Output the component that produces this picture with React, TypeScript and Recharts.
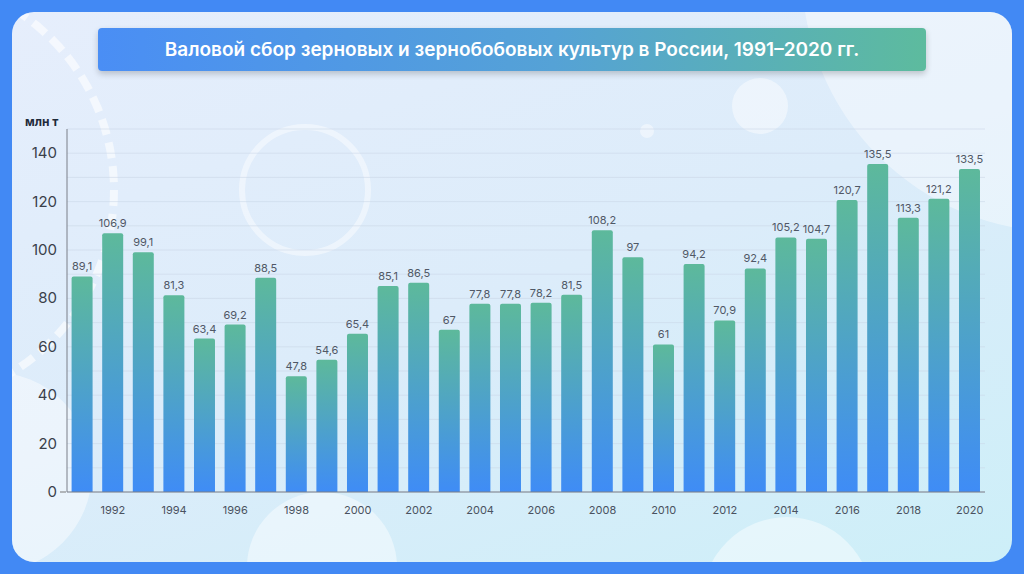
import { BarChart, Bar, XAxis, YAxis, CartesianGrid, LabelList } from 'recharts';

const YEARS = [
  1991, 1992, 1993, 1994, 1995, 1996, 1997, 1998, 1999, 2000,
  2001, 2002, 2003, 2004, 2005, 2006, 2007, 2008, 2009, 2010,
  2011, 2012, 2013, 2014, 2015, 2016, 2017, 2018, 2019, 2020,
];
const HARVEST = [
  89.1, 106.9, 99.1, 81.3, 63.4, 69.2, 88.5, 47.8, 54.6, 65.4,
  85.1, 86.5, 67, 77.8, 77.8, 78.2, 81.5, 108.2, 97, 61,
  94.2, 70.9, 92.4, 105.2, 104.7, 120.7, 135.5, 113.3, 121.2, 133.5,
];
const Y_TICKS = [0, 10, 20, 30, 40, 50, 60, 70, 80, 90, 100, 110, 120, 130, 140];

const data = YEARS.map((year, i) => ({ year, value: HARVEST[i] }));

const FONT = 'Inter, "Noto Sans", sans-serif';

const fmt = (v: any) => String(v).replace('.', ',');

function YTick({ x, y, payload }: any) {
  if (payload.value % 20 !== 0) return null;
  return (
    <g>
      {payload.value === 0 && <line x1={x + 1} x2={x + 7} y1={y} y2={y} stroke="#777" />}
      <text x={x - 2} y={y} dy={5} textAnchor="end" fontSize={15} fill="#3a3f4a" fontFamily={FONT}>
        {payload.value}
      </text>
    </g>
  );
}

function XTick({ x, y, payload }: any) {
  if (payload.value % 2 !== 0) return null;
  return (
    <text x={x} y={y} dy={14} textAnchor="middle" fontSize={11} fill="#4a5260" fontFamily={FONT}>
      {payload.value}
    </text>
  );
}

const circle = (left: number, top: number, size: number, extra: any = {}) => (
  <div
    style={{
      position: 'absolute',
      left,
      top,
      width: size,
      height: size,
      borderRadius: '50%',
      background: 'rgba(255,255,255,0.45)',
      ...extra,
    }}
  />
);

export default function App() {
  return (
    <div style={{ position: 'fixed', left: 0, top: 0, width: 1024, height: 574, background: '#4289f4', overflow: 'hidden', fontFamily: FONT }}>
      <div
        style={{
          position: 'absolute',
          left: 12,
          top: 12,
          width: 1000,
          height: 550,
          borderRadius: 22,
          overflow: 'hidden',
          background: 'linear-gradient(160deg, #e6eefc 0%, #dcecfa 50%, #cdeff8 100%)',
        }}
      >
        {circle(790, -300, 520, { background: 'rgba(255,255,255,0.4)' })}
        {circle(720, 66, 56)}
        {circle(628, 112, 14)}
        {circle(227, 112, 120, { background: 'transparent', border: '6px solid rgba(255,255,255,0.45)' })}
        {circle(-120, 360, 200)}
        {circle(235, 480, 150)}
        {circle(690, 505, 170)}
        {circle(-330, -40, 420, { background: 'transparent', border: '8px dashed rgba(255,255,255,0.6)' })}
      </div>
      <div
        style={{
          position: 'absolute',
          left: 98,
          top: 28,
          width: 828,
          height: 43,
          borderRadius: 4,
          background: 'linear-gradient(90deg, #4a8ef5 0%, #55a2d6 55%, #5dbb9e 100%)',
          boxShadow: '0 3px 6px rgba(0,0,0,0.2)',
          color: '#fff',
          fontSize: 19,
          fontWeight: 600,
          display: 'flex',
          alignItems: 'center',
          justifyContent: 'center',
        }}
      >
        Валовой сбор зерновых и зернобобовых культур в России, 1991–2020 гг.
      </div>
      <div style={{ position: 'absolute', left: 25, top: 114, fontSize: 12, fontWeight: 700, color: '#1f2a3a' }}>млн т</div>
      <div style={{ position: 'absolute', left: 0, top: 0 }}>
        <BarChart width={1024} height={574} data={data} margin={{ top: 129, right: 39, bottom: 52, left: 17 }} barCategoryGap="15%">
          <defs>
            <linearGradient id="barGrad" x1="0" y1="0" x2="0" y2="1">
              <stop offset="0%" stopColor="#5db99b" />
              <stop offset="100%" stopColor="#3f8cf6" />
            </linearGradient>
          </defs>
          <CartesianGrid vertical={false} stroke="#c9d6e6" strokeOpacity={0.55} />
          <XAxis dataKey="year" interval={0} tick={<XTick />} tickLine={false} axisLine={{ stroke: '#7a7f88' }} height={30} />
          <YAxis domain={[0, 150]} ticks={Y_TICKS} tick={<YTick />} tickLine={false} axisLine={{ stroke: '#7a7f88' }} width={50} />
          <Bar dataKey="value" fill="url(#barGrad)" radius={[2, 2, 0, 0]} isAnimationActive={false}>
            <LabelList dataKey="value" position="top" offset={6} formatter={fmt} fontSize={11} fill="#505866" fontFamily={FONT} />
          </Bar>
        </BarChart>
      </div>
    </div>
  );
}
